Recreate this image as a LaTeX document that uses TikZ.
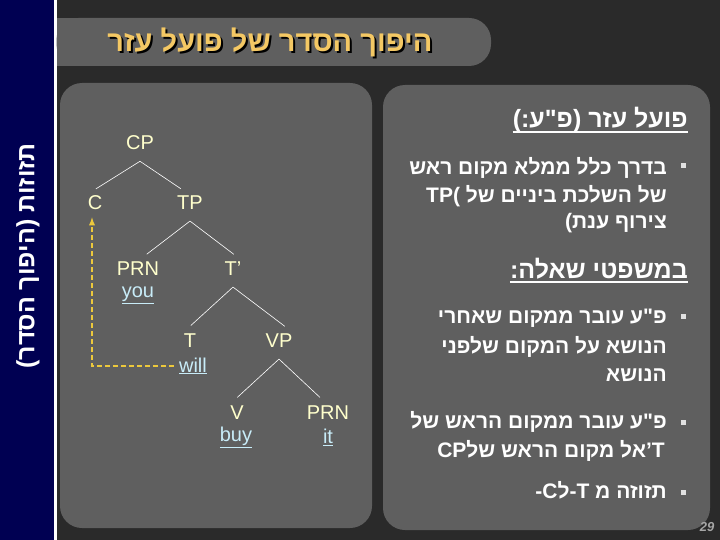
\documentclass[tikz,border=0pt]{standalone}
\usepackage{fontspec}
\setmainfont{Liberation Sans}
\newfontfamily\hebfont[Script=Hebrew]{Liberation Sans}
\TeXXeTstate=1
\usetikzlibrary{arrows.meta}

\definecolor{blunotte}{RGB}{0,0,82}
\definecolor{sfondo}{RGB}{42,42,42}
\definecolor{pannello}{RGB}{95,95,95}
\definecolor{oro}{RGB}{244,200,100}
\definecolor{giallino}{RGB}{255,255,204}
\definecolor{azzurrino}{RGB}{200,236,248}
\definecolor{freccia}{RGB}{236,200,60}
\definecolor{grigino}{RGB}{225,225,225}

% spezza una parola mista senza spazio
\newcommand{\brk}{\kern0pt\relax}
% titolo con ombra
\newcommand{\titolo}{\beginR היפוך הסדר של פועל עזר\endR}

\begin{document}
\begin{tikzpicture}[
        x=1pt, y=-1pt,
        etichetta/.style={text=giallino, font=\fontsize{20}{24}\selectfont, inner sep=1pt},
        parola/.style={text=azzurrino, font=\fontsize{20}{24}\selectfont, inner sep=1pt},
        ramo/.style={draw=white, line width=0.6pt, shorten >=11pt},
        riga/.style={text=white, anchor=base east, inner sep=0pt,
            font=\hebfont\bfseries\fontsize{21}{25}\selectfont},
        capo/.style={riga, font=\hebfont\bfseries\fontsize{25}{29}\selectfont},
        quadretto/.style={fill=grigino, minimum size=5pt, inner sep=0pt},
        >=latex
    ]

    % --- Sfondo, striscia laterale e riquadri ---
    \fill[sfondo] (0,0) rectangle (720,540);
    \fill[blunotte] (0,0) rectangle (54,540);
    \fill[white] (54,0) rectangle (56.5,540);
    \fill[pannello, rounded corners=22pt] (56.5,18) rectangle (491,66);
    \fill[pannello] (56.5,18) rectangle (120,66);
    \fill[pannello, rounded corners=22pt] (60,83) rectangle (372,528);
    \fill[pannello, rounded corners=22pt] (383,85) rectangle (710,530);

    % --- Titolo (con ombra) ---
    \node[text=oro, font=\hebfont\bfseries\fontsize{29}{33}\selectfont] (intestazione) at (270,43)
        {\rlap{\kern2pt\raisebox{-2pt}{\color{black}\titolo}}\titolo};

    % --- Titolo verticale ---
    \node[rotate=90, text=white, font=\hebfont\bfseries\fontsize{25}{29}\selectfont] (laterale) at (28,256)
        {\beginR תזוזות (היפוך הסדר)\endR};

    % --- Albero ---
    \node[etichetta] (cp) at (140,143) {CP};
    \node[etichetta] (c) at (95,203) {C};
    \node[etichetta] (tp) at (190,203) {TP};
    \node[etichetta] (prn) at (138,269) {PRN};
    \node[parola] (you) at (138,295) {\underline{you}};
    \node[etichetta] (tbar) at (233,269) {T’};
    \node[etichetta] (t) at (190,341) {T};
    \node[parola] (will) at (193,366) {\underline{will}};
    \node[etichetta] (vp) at (279,341) {VP};
    \node[etichetta] (v) at (237,413) {V};
    \node[parola] (buy) at (236,437) {\underline{buy}};
    \node[etichetta] (prnb) at (328,413) {PRN};
    \node[parola] (it) at (328,437) {\underline{it}};

    \foreach \a/\b/\ang in {cp/c/north west, cp/tp/north, tp/prn/north, tp/tbar/north east,
                            tbar/t/north west, tbar/vp/north east, vp/v/north west, vp/prnb/north}
        \draw[ramo] ([yshift=-10pt]\a.south) -- (\b.\ang);

    % movimento di T verso C
    \draw[->, draw=freccia, line width=1.8pt, dash pattern=on 5pt off 3pt, shorten <=4pt, shorten >=6pt]
        (will.west) -| ([xshift=-3pt]c.south);

    % --- Testo a destra ---
    \node[capo] (h1) at (688,128) {\beginR פועל עזר (פ"ע:)\endR};
    \draw[white, line width=1.6pt] ([yshift=-4pt]h1.base west) -- ([yshift=-4pt]h1.base east);

    \node[quadretto] (b1) at (683,166) {};
    \node[riga] (l11) at (667,175) {\beginR בדרך כלל ממלא מקום ראש\endR};
    \node[riga] (l12) at (667,203) {\beginR של השלכת ביניים של TP(\endR};
    \node[riga] (l13) at (667,229) {\beginR צירוף ענת)\endR};

    \node[capo] (h2) at (688,278) {\beginR במשפטי שאלה:\endR};
    \draw[white, line width=1.6pt] ([yshift=-4pt]h2.base west) -- ([yshift=-4pt]h2.base east);

    \node[quadretto] (b2) at (683,316) {};
    \node[riga] (l21) at (667,323) {\beginR פ"ע עובר ממקום שאחרי\endR};
    \node[riga] (l22) at (667,353) {\beginR הנושא על המקום שלפני\endR};
    \node[riga] (l23) at (667,381) {\beginR הנושא\endR};

    \node[quadretto] (b3) at (683,422) {};
    \node[riga] (l31) at (667,428) {\beginR פ"ע עובר ממקום הראש של\endR};
    \node[riga] (l32) at (665,457) {\beginR ’T\brk אל מקום הראש של\brk CP\endR};

    \node[quadretto] (b4) at (683,492) {};
    \node[riga] (l41) at (667,498) {\beginR תזוזה מ -T\brk ל\brk -C\endR};

    % numero di pagina
    \node[text=black!35, font=\bfseries\itshape\fontsize{13}{15}\selectfont] (pagina) at (707,527) {29};

\end{tikzpicture}
\end{document}
